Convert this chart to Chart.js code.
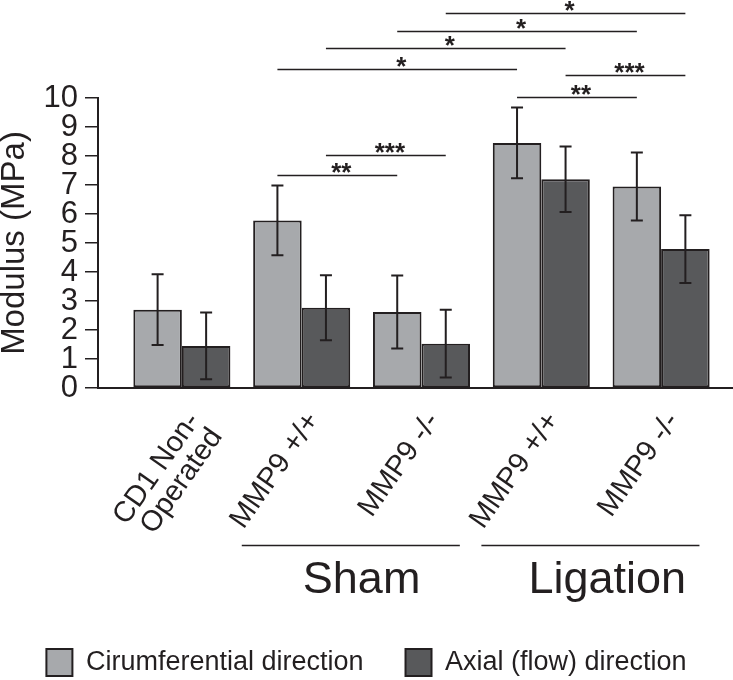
<!DOCTYPE html>
<html><head><meta charset="utf-8">
<script src="https://cdn.jsdelivr.net/npm/chart.js@4.4.1/dist/chart.umd.min.js"></script>
<style>html,body{margin:0;padding:0;background:#fff}#wrap{width:733px;height:680px}</style>
</head><body><div id="wrap"><canvas id="c" width="733" height="680"></canvas></div>
<script>
// ---- data ----
const categories = [['CD1 Non-', 'Operated'], 'MMP9 +/+', 'MMP9 -/-', 'MMP9 +/+', 'MMP9 -/-'];
const seriesNames = ['Cirumferential direction', 'Axial (flow) direction'];
const circumferential = [2.70, 5.78, 2.62, 8.45, 6.95];
const circumferentialErr = [1.22, 1.20, 1.26, 1.22, 1.17];
const axial = [1.45, 2.77, 1.53, 7.20, 4.79];
const axialErr = [1.15, 1.12, 1.17, 1.13, 1.17];
const yTicks = [0, 1, 2, 3, 4, 5, 6, 7, 8, 9, 10];
const groupNames = ['Sham', 'Ligation'];
const groupStart = [1, 3];
const groupEnd = [2, 4];
const sigText = ['*', '*', '*', '*', '***', '**', '***', '**'];
const sigFromGroup = [2, 2, 1, 1, 3, 3, 1, 1];
const sigToGroup = [4, 4, 3, 3, 4, 4, 2, 2];
const sigSeries = [1, 0, 1, 0, 1, 0, 1, 0];
const sigLevel = [12.93, 12.32, 11.72, 11.01, 10.81, 10.04, 8.02, 7.36];

// ---- styling ----
const INK = '#231f20';
const FONT = "'Liberation Sans', Arial, sans-serif";
Chart.defaults.font.family = FONT;
Chart.defaults.color = INK;

const errorsBySeries = [circumferentialErr, axialErr];

const errorBars = {
  id: 'errorBars',
  afterDatasetsDraw(chart) {
    const ctx = chart.ctx, y = chart.scales.y;
    ctx.save();
    ctx.strokeStyle = INK; ctx.lineWidth = 2;
    chart.data.datasets.forEach((ds, di) => {
      const meta = chart.getDatasetMeta(di);
      meta.data.forEach((bar, i) => {
        const v = ds.data[i].y, e = errorsBySeries[di][i];
        const yt = y.getPixelForValue(v + e), yb = y.getPixelForValue(v - e);
        const cw = 6;
        ctx.beginPath();
        ctx.moveTo(bar.x, yt); ctx.lineTo(bar.x, yb);
        ctx.moveTo(bar.x - cw, yt); ctx.lineTo(bar.x + cw, yt);
        ctx.moveTo(bar.x - cw, yb); ctx.lineTo(bar.x + cw, yb);
        ctx.stroke();
      });
    });
    ctx.restore();
  }
};

const sigPlugin = {
  id: 'sig',
  afterDraw(chart) {
    const ctx = chart.ctx, y = chart.scales.y;
    ctx.save();
    ctx.strokeStyle = INK; ctx.fillStyle = INK; ctx.lineWidth = 1.6;
    ctx.font = 'bold 26px ' + FONT;
    ctx.textAlign = 'center'; ctx.textBaseline = 'alphabetic';
    sigText.forEach((t, k) => {
      const meta = chart.getDatasetMeta(sigSeries[k]);
      const x1 = meta.data[sigFromGroup[k]].x, x2 = meta.data[sigToGroup[k]].x;
      const yy = Math.round(y.getPixelForValue(sigLevel[k])) + 0.5;
      ctx.beginPath(); ctx.moveTo(x1, yy); ctx.lineTo(x2, yy); ctx.stroke();
      ctx.fillText(t, (x1 + x2) / 2 + 4, yy + 5);
    });
    ctx.restore();
  }
};

const groupPlugin = {
  id: 'groups',
  afterDraw(chart) {
    const ctx = chart.ctx, x = chart.scales.x, base = chart.chartArea.bottom;
    ctx.save();
    ctx.strokeStyle = INK; ctx.fillStyle = INK; ctx.lineWidth = 1.6;
    ctx.font = '45px ' + FONT;
    ctx.textAlign = 'center'; ctx.textBaseline = 'alphabetic';
    groupNames.forEach((g, k) => {
      const xa = x.getPixelForValue(groupStart[k] - 0.5);
      const xb = x.getPixelForValue(groupEnd[k] + 0.32);
      const ly = Math.round(base + 157) + 0.5;
      ctx.beginPath(); ctx.moveTo(xa, ly); ctx.lineTo(xb, ly); ctx.stroke();
      ctx.fillText(g, x.getPixelForValue((groupStart[k] + groupEnd[k]) / 2) + 6 * k, base + 205);
    });
    ctx.restore();
  }
};

new Chart(document.getElementById('c'), {
  type: 'bar',
  data: {
    datasets: [
      { label: seriesNames[0], data: circumferential.map((v, i) => ({ x: i, y: v })),
        backgroundColor: '#a7a9ac', borderColor: INK, borderWidth: 2, borderSkipped: false },
      { label: seriesNames[1], data: axial.map((v, i) => ({ x: i, y: v })),
        backgroundColor: '#58595b', borderColor: INK, borderWidth: 2, borderSkipped: false }
    ]
  },
  options: {
    responsive: false, animation: false, devicePixelRatio: 1,
    layout: { padding: { top: 98, left: 0, right: 0, bottom: -6 } },
    datasets: { bar: { categoryPercentage: 0.81, barPercentage: 1 } },
    scales: {
      x: {
        type: 'linear', min: -0.7, max: 4.6, offset: false,
        afterBuildTicks: s => { s.ticks = categories.map((c, i) => ({ value: i })); },
        afterFit: s => { s.height = 219; },
        grid: { display: false },
        border: { display: true, color: INK, width: 2 },
        ticks: {
          autoSkip: false, minRotation: 55, maxRotation: 55, padding: 12, labelOffset: 12,
          color: INK, font: { size: 29, lineHeight: 0.95 },
          callback: v => categories[v]
        }
      },
      y: {
        min: 0, max: 10,
        afterBuildTicks: s => { s.ticks = yTicks.map(v => ({ value: v })); },
        afterFit: s => { s.width = 98; },
        ticks: { autoSkip: false, padding: 7, color: INK, font: { size: 31 } },
        grid: { drawOnChartArea: false, drawTicks: true, tickLength: 13, color: INK, lineWidth: 1.5 },
        border: { color: INK, width: 2 },
        title: { display: true, text: 'Modulus (MPa)', color: INK, font: { size: 33, lineHeight: 0.9 }, padding: 0 }
      }
    },
    plugins: {
      legend: { position: 'bottom', labels: { boxWidth: 26, boxHeight: 27, padding: 42, color: INK, font: { size: 27 } } },
      tooltip: { enabled: false }
    }
  },
  plugins: [errorBars, sigPlugin, groupPlugin]
});
</script></body></html>
